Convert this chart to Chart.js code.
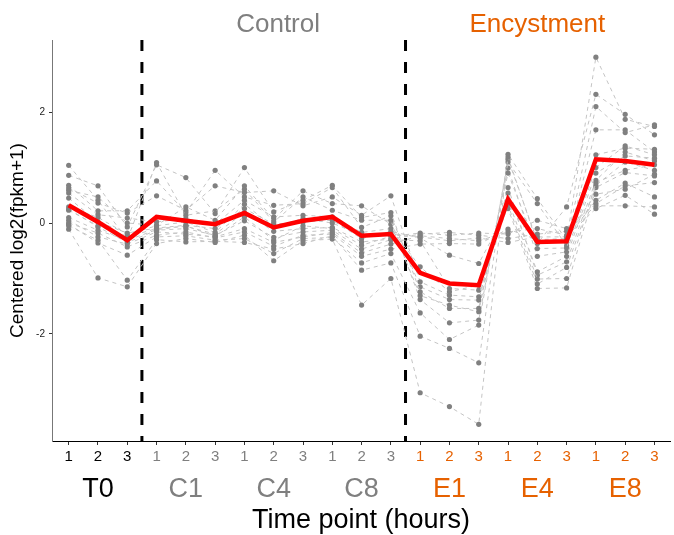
<!DOCTYPE html>
<html lang="en">
<head>
<meta charset="UTF-8">
<title>Centered log2(fpkm+1) by time point</title>
<script src="https://cdn.jsdelivr.net/npm/chart.js@4"></script>
<style>
  body { margin: 0; background: #fff; }
  canvas { display: block; }
</style>
</head>
<body>
<canvas id="chart" width="674" height="535"></canvas>
<script>
// sample replicates along the x axis
const tickLabels = ['1','2','3', '1','2','3', '1','2','3', '1','2','3', '1','2','3', '1','2','3', '1','2','3'];
const groups = ['T0', 'C1', 'C4', 'C8', 'E1', 'E4', 'E8'];
const conditions = ['Control', 'Encystment'];

const BLACK = '#000000', GREY = '#7F7F7F', ORANGE = '#E66100';
const groupColors = [BLACK, GREY, GREY, GREY, ORANGE, ORANGE, ORANGE];

// per-gene centered values (one row per gene, 21 samples)
const g01 = [0.63, 0.36, 0.18, 0.49, 0.23, 0.67, 0.55, 0.58, 0.31, 0.47, 0.14, 0.49, -1.06, -1.30, -1.33, 0.54, -0.88, -0.60, 0.90, 1.21, 1.17];
const g02 = [0.29, 0.10, -0.20, -0.05, 0.02, -0.17, 0.34, -0.07, 0.08, 0.00, -0.22, -0.19, -0.25, -0.32, -0.27, -0.35, -0.25, -0.25, 0.26, 0.50, 0.16];
const g03 = [0.10, -0.13, -0.31, -0.12, -0.05, -0.24, 0.11, -0.31, -0.05, -0.10, -0.40, -0.24, -0.18, -0.22, -0.18, -0.20, 0.05, -0.10, 0.35, 0.67, 0.73];
const g04 = [0.86, 0.67, -0.07, 1.05, 0.82, 0.17, 1.00, 0.20, 0.41, 0.68, 0.10, 0.19, -1.24, -1.54, -1.54, 0.90, -0.46, -0.45, 1.23, 1.35, 1.33];
const g05 = [0.00, -0.18, -0.43, -0.22, -0.16, -0.27, -0.16, -0.42, -0.22, -0.20, -0.60, -0.47, -0.38, -0.37, -0.38, -0.11, -0.30, -0.28, 0.41, 0.72, 0.47];
const g06 = [0.54, 0.15, 0.09, 0.02, 0.08, -0.02, 0.41, 0.11, 0.14, 0.11, -0.17, -0.10, -0.79, -1.24, -1.12, 0.41, -1.01, -1.00, 0.73, 0.95, 1.05];
const g07 = [0.23, -0.05, -0.25, -0.10, -0.06, -0.20, 0.19, -0.15, -0.10, -0.08, -0.34, -0.29, -0.20, -0.17, -0.22, -0.28, -0.20, -0.15, 0.31, 0.31, 0.29];
const g08 = [-0.05, -0.31, -1.03, -0.30, -0.34, -0.33, -0.35, -0.47, -0.37, -0.23, -0.85, -0.72, -2.04, -2.26, -2.52, 1.19, -0.37, 0.29, 2.32, 1.96, 1.59];
const g09 = [1.04, 0.41, -0.30, 1.09, 0.14, 0.22, 0.61, 0.02, 0.47, 0.23, 0.05, 0.05, -1.38, -1.80, -1.75, 1.10, 0.35, -0.41, 1.68, 1.68, 1.28];
const g10 = [0.25, -0.07, -0.35, -0.13, -0.10, -0.22, 0.04, -0.26, -0.16, -0.13, -0.47, -0.30, -0.32, -1.18, -1.21, 0.32, -1.10, -0.80, 0.68, 1.10, 0.95];
const g11 = [0.68, 0.22, 0.22, 0.76, 0.19, 0.95, 0.47, 0.32, 0.35, 0.64, -0.08, 0.13, -1.15, -1.38, -1.39, 0.64, -0.94, -0.70, 0.77, 1.28, 1.12];
const g12 = [0.05, -0.25, -0.38, -0.16, -0.20, -0.25, -0.10, -0.35, -0.25, -0.17, -0.54, -0.38, -0.23, -0.28, -0.32, -0.16, -0.10, -0.22, 0.52, 0.61, 0.88];
const g13 = [0.59, 0.47, 0.00, -0.04, 0.29, 0.05, 0.67, 0.07, 0.58, 0.35, 0.31, -0.02, -1.31, -1.48, -1.60, 0.99, -0.60, -0.52, 1.00, 1.39, 1.23];
const g14 = [-0.11, -0.99, -1.15, -0.37, -0.28, -0.35, -0.22, -0.68, -0.32, -0.29, -1.48, -1.00, -3.06, -3.31, -3.63, 1.24, 0.44, -0.31, 2.99, 1.87, 1.74];
const g15 = [0.45, 0.02, -0.18, -0.09, -0.04, -0.10, 0.26, -0.02, 0.02, 0.05, -0.28, -0.15, -0.27, -0.58, -0.73, 0.26, -1.18, -1.17, 0.64, 0.91, 0.85];
const g16 = [-0.02, -0.36, -0.58, -0.25, -0.23, -0.31, -0.28, -0.55, -0.28, -0.26, -0.72, -0.55, -1.62, -2.10, -1.84, 1.15, -0.33, -0.35, 2.10, 1.63, 1.77];
const genes = [g01, g02, g03, g04, g05, g06, g07, g08, g09, g10, g11, g12, g13, g14, g15, g16];

// cluster mean (red line)
const meanProfile = [0.32, 0.02, -0.31, 0.11, 0.04, -0.02, 0.18, -0.08, 0.04, 0.11, -0.23, -0.20, -0.90, -1.09, -1.12, 0.43, -0.34, -0.33, 1.15, 1.12, 1.05];

const yTicks = [-2, 0, 2];

// x positions of the samples: 1..21 (discrete axis)
const toPoints = arr => arr.map((v, i) => ({ x: i + 1, y: v }));

const datasets = [{
    data: toPoints(meanProfile),
    borderColor: '#FF0000',
    borderWidth: 4.5,
    pointRadius: 0,
    fill: false,
    tension: 0
}];
genes.forEach(g => {
    datasets.push({
        data: toPoints(g),
        borderColor: '#C4C4C4',
        borderWidth: 1,
        borderDash: [4, 4],
        pointRadius: 2.6,
        pointBackgroundColor: '#808080',
        pointBorderWidth: 0,
        fill: false,
        tension: 0
    });
});

const FONT = "'Liberation Sans', Arial, sans-serif";

const annotations = {
    id: 'annotations',
    beforeDatasetsDraw(chart) {
        const { ctx, chartArea, scales: { x } } = chart;
        ctx.save();
        ctx.strokeStyle = '#000';
        ctx.lineWidth = 3;
        ctx.setLineDash([11, 11]);
        [3.5, 12.5].forEach(v => {
            const px = x.getPixelForValue(v);
            ctx.beginPath();
            ctx.moveTo(px, chartArea.top);
            ctx.lineTo(px, chartArea.bottom);
            ctx.stroke();
        });
        ctx.restore();
    },
    afterDraw(chart) {
        const { ctx, chartArea, scales: { x } } = chart;
        ctx.save();
        ctx.textAlign = 'center';
        ctx.textBaseline = 'middle';

        // group names under the replicate numbers
        ctx.font = '27px ' + FONT;
        groups.forEach((g, i) => {
            ctx.fillStyle = groupColors[i];
            ctx.fillText(g, x.getPixelForValue(i * 3 + 2), 490);
        });

        // condition headers
        ctx.font = '26px ' + FONT;
        ctx.fillStyle = GREY;
        ctx.fillText(conditions[0], x.getPixelForValue(8.15), 25);
        ctx.fillStyle = ORANGE;
        ctx.fillText(conditions[1], x.getPixelForValue(17), 25);

        // axis titles
        ctx.fillStyle = '#000';
        ctx.font = '27px ' + FONT;
        ctx.fillText('Time point (hours)', (chartArea.left + chartArea.right) / 2, 521);

        ctx.font = '19px ' + FONT;
        ctx.translate(18, (chartArea.top + chartArea.bottom) / 2);
        ctx.rotate(-Math.PI / 2);
        ctx.fillText('Centered log2(fpkm+1)', 0, 0);
        ctx.restore();
    }
};

new Chart(document.getElementById('chart'), {
    type: 'line',
    data: { datasets },
    options: {
        responsive: false,
        animation: false,
        events: [],
        layout: { padding: { top: 40, right: 0, left: 0, bottom: 0 } },
        plugins: { legend: { display: false }, tooltip: { enabled: false } },
        scales: {
            x: {
                type: 'linear',
                min: 0.43,
                max: 21.53,
                afterBuildTicks: s => { s.ticks = tickLabels.map((t, i) => ({ value: i + 1 })); },
                afterFit: s => { s.height = 94; s.paddingLeft = 0; s.paddingRight = 0; },
                grid: { display: true, drawOnChartArea: false, drawTicks: true, tickLength: 4, color: '#333', tickWidth: 1 },
                border: { display: true, color: '#000', width: 1 },
                ticks: {
                    autoSkip: false,
                    maxRotation: 0,
                    padding: 3,
                    font: { size: 15, family: FONT },
                    color: c => groupColors[Math.floor(c.index / 3)],
                    callback: (v, i) => tickLabels[i]
                }
            },
            y: {
                type: 'linear',
                min: -3.93,
                max: 3.30,
                afterBuildTicks: s => { s.ticks = yTicks.map(v => ({ value: v })); },
                afterFit: s => { s.width = 52; s.paddingTop = 0; s.paddingBottom = 0; },
                grid: { display: true, drawOnChartArea: false, drawTicks: true, tickLength: 3, color: '#333' },
                border: { display: true, color: '#777', width: 1 },
                ticks: {
                    padding: 4,
                    font: { size: 10, family: FONT },
                    color: '#222',
                    callback: v => String(v)
                }
            }
        }
    },
    plugins: [annotations]
});
</script>
</body>
</html>
